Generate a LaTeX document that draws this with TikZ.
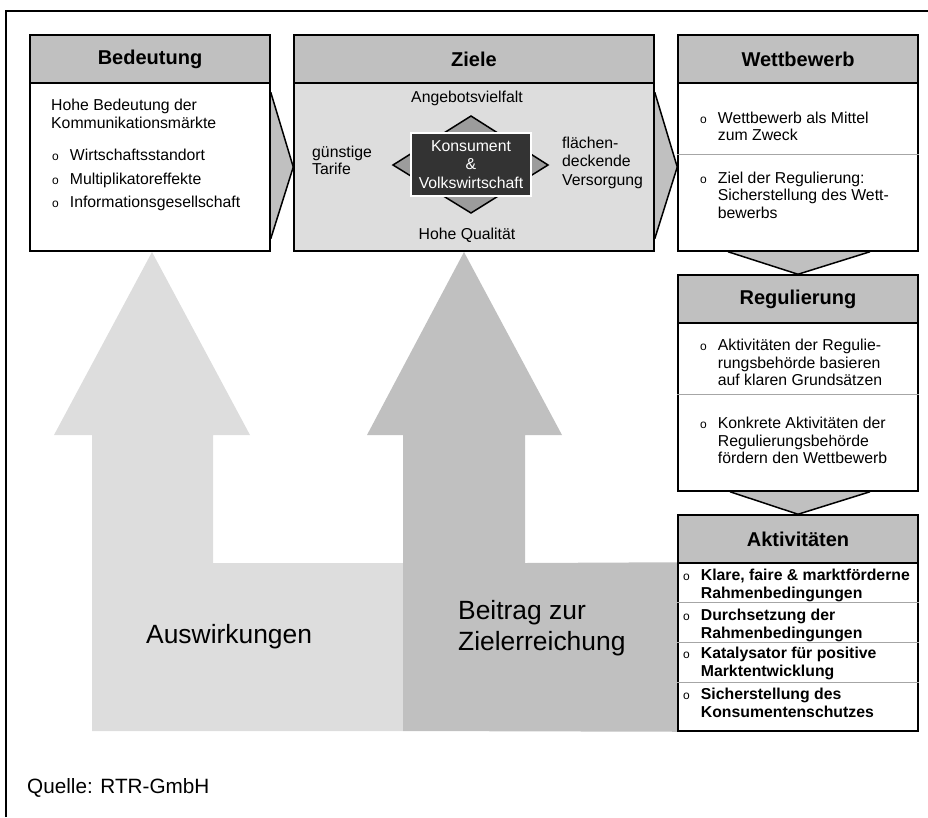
\documentclass[tikz,border=0pt]{standalone}
\usepackage{fontspec}
\setmainfont{Liberation Sans}
\usetikzlibrary{calc}
\pgfdeclarelayer{background}
\pgfsetlayers{background,main}
\definecolor{headgray}{HTML}{C0C0C0}
\definecolor{palegray}{HTML}{DDDDDD}
\definecolor{rhombgray}{HTML}{9C9C9C}
\definecolor{coregray}{HTML}{333333}
\definecolor{rulegray}{HTML}{A6A6A6}
\newcommand{\bul}{{\mdseries\fontsize{12}{12}\selectfont o}}
\newcommand{\bitem}[1]{\begin{tabular}{@{}l@{\hspace{11pt}}l@{}}\bul & #1\end{tabular}}

\begin{document}
\begin{tikzpicture}[x=1pt, y=-1pt,
    head/.style={draw, line width=1.5pt, fill=headgray, minimum width=240pt, minimum height=48pt,
      inner sep=0pt, font=\fontsize{20}{24}\selectfont\bfseries},
    body/.style={draw, line width=1.5pt, fill=white, minimum width=240pt, minimum height=168pt, inner sep=0pt},
    txt/.style={inner sep=0pt, align=left, font=\fontsize{15.8}{17.5}\selectfont},
    bigtxt/.style={inner sep=0pt, align=left, font=\fontsize{26.4}{31}\selectfont},
    chev/.style={draw, line width=1.5pt, fill=headgray, line join=miter},
    divline/.style={draw=rulegray, line width=1pt}]
  \useasboundingbox (0,0) rectangle (928,817);
  \draw[line width=1.3pt] (6,817) -- (6,11) -- (928,11);   % frame

  % boxes
  \node[head] (bedH) at (150,59) {Bedeutung};
  \node[body] (bedB) at (150,167) {};
  \node[head, minimum width=360pt] (zielH) at (474,59) {Ziele};
  \node[body, minimum width=360pt, fill=palegray] (zielB) at (474,167) {};
  \node[head] (wettH) at (798,59) {Wettbewerb};
  \node[body] (wettB) at (798,167) {};
  \node[head] (regH) at (798,299) {Regulierung};
  \node[body] (regB) at (798,407) {};
  \node[head] (aktH) at (798,539) {Aktivitäten};
  \node[body] (aktB) at (798,647) {};

  % dividers
  \draw[divline] ($(wettB.north west)+(0,72)$) -- ($(wettB.north east)+(0,72)$);
  \draw[divline] ($(regB.north west)+(0,72)$) -- ($(regB.north east)+(0,72)$);
  \foreach \dy in {40,80,120}
    \draw[divline] ($(aktB.north west)+(0,\dy)$) -- ($(aktB.north east)+(0,\dy)$);

  \begin{pgfonlayer}{background}
    % big arrows
    \fill[palegray] (92,731) -- (92,435) -- (54,435) -- (152,252) -- (250,435) -- (213,435)
      -- (213,563) -- (403,563) -- (403,731) -- cycle;
    \fill[headgray] (403,731) -- (403,435) -- (367,435) -- (464,252) -- (562,435) -- (525,435)
      -- (525,563) -- (aktB.north west) -- (aktB.south west) -- cycle;
    % chevrons between the boxes
    \filldraw[chev] ($(bedB.north east)+(0,10)$) -- (zielB.west) -- ($(bedB.south east)+(0,-13)$);
    \filldraw[chev] ($(zielB.north east)+(0,10)$) -- (wettB.west) -- ($(zielB.south east)+(0,-13)$);
    \filldraw[chev] ($(wettB.south)+(-70,0)$) -- (regH.north) -- ($(wettB.south)+(72,0)$);
    \filldraw[chev] ($(regB.south)+(-68,0)$) -- (aktH.north) -- ($(regB.south)+(72,0)$);
  \end{pgfonlayer}

  % Bedeutung
  \node[txt, anchor=west] (bedT) at (51,114) {Hohe Bedeutung der\\Kommunikationsmärkte};
  \node[txt, anchor=west] (bedL) at (52,180.5) {\begin{tabular}{@{}l@{\hspace{11pt}}l@{}}
    \bul & Wirtschaftsstandort\\[6pt] \bul & Multiplikatoreffekte\\[6pt] \bul & Informationsgesellschaft\end{tabular}};

  % Ziele
  \filldraw[fill=rhombgray, line width=1.5pt] (471,116) -- (548,165) -- (471,213) -- (393,165) -- cycle;
  \node[draw=white, line width=1.5pt, fill=coregray, text=white, minimum width=120pt, minimum height=63pt,
    inner sep=0pt, align=center, font=\fontsize{15.8}{18.5}\selectfont] (core) at (471,164.5)
    {Konsument\\\&\\Volkswirtschaft};
  \node[txt] (zielTop) at (467,98) {Angebotsvielfalt};
  \node[txt] (zielBot) at (467,235) {Hohe Qualität};
  \node[txt, anchor=west] (zielL) at (312,160.5) {günstige\\Tarife};
  \node[txt, anchor=west, font=\fontsize{15.8}{18.5}\selectfont] (zielR) at (562,162.5) {flächen-\\deckende\\Versorgung};

  % Wettbewerb
  \node[txt, anchor=west] (wett1) at (700,128.5) {\bitem{Wettbewerb als Mittel\\ & zum Zweck}};
  \node[txt, anchor=west] (wett2) at (700,197) {\bitem{Ziel der Regulierung:\\ & Sicherstellung des Wett-\\ & bewerbs}};

  % Regulierung
  \node[txt, anchor=west] (reg1) at (700,364.5) {\bitem{Aktivitäten der Regulie-\\ & rungsbehörde basieren\\ & auf klaren Grundsätzen}};
  \node[txt, anchor=west] (reg2) at (700,442.5) {\bitem{Konkrete Aktivitäten der\\ & Regulierungsbehörde\\ & fördern den Wettbewerb}};

  % Aktivitaeten
  \node[txt, anchor=west, font=\fontsize{15.8}{18}\selectfont\bfseries] (akt1) at (683,586) {\bitem{Klare, faire \& marktförderne\\ & Rahmenbedingungen}};
  \node[txt, anchor=west, font=\fontsize{15.8}{18}\selectfont\bfseries] (akt2) at (683,625.5) {\bitem{Durchsetzung der\\ & Rahmenbedingungen}};
  \node[txt, anchor=west, font=\fontsize{15.8}{18}\selectfont\bfseries] (akt3) at (683,664) {\bitem{Katalysator für positive\\ & Marktentwicklung}};
  \node[txt, anchor=west, font=\fontsize{15.8}{18}\selectfont\bfseries] (akt4) at (683,704.5) {\bitem{Sicherstellung des\\ & Konsumentenschutzes}};

  % arrow labels
  \node[bigtxt, anchor=west] (ausw) at (146,637) {Auswirkungen};
  \node[bigtxt, anchor=west] (beitrag) at (458,628.5) {Beitrag zur\\Zielerreichung};

  \node[anchor=west, inner sep=0pt, font=\fontsize{20.7}{24}\selectfont] (quelle) at (27,788) {Quelle: RTR-GmbH};
\end{tikzpicture}
\end{document}
